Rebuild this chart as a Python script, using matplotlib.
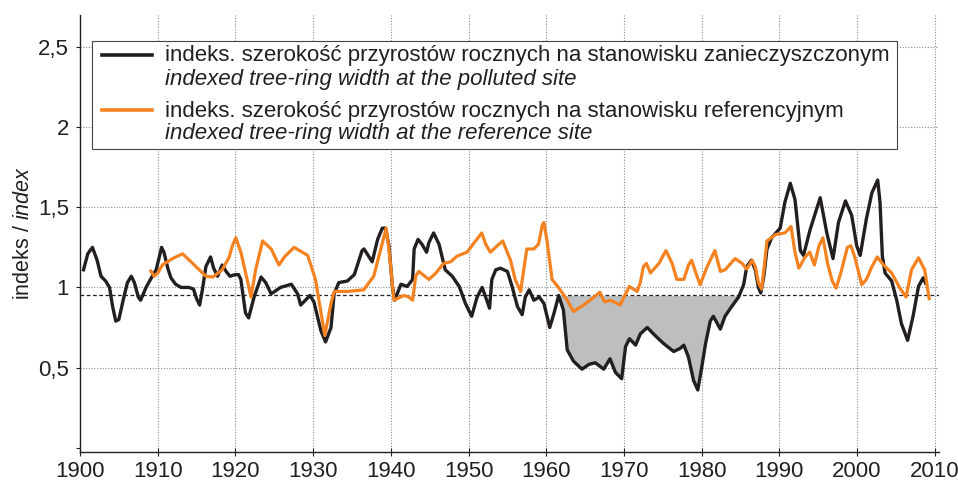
import numpy as np
import matplotlib
matplotlib.use("Agg")
import matplotlib.pyplot as plt
from matplotlib import font_manager as fm
from matplotlib.patches import Rectangle
from matplotlib.lines import Line2D

# ---------------- data ----------------
polluted_years = [
    1900.4, 1901.0, 1901.6, 1902.2, 1902.7, 1903.3, 1903.8, 1904.2, 1904.6, 1905.0,
    1905.6, 1906.1, 1906.6, 1907.0, 1907.5, 1907.8, 1908.5, 1909.3, 1909.8, 1910.5,
    1910.8, 1911.3, 1911.7, 1912.3, 1913.0, 1914.0, 1914.6, 1915.0, 1915.4, 1915.8,
    1916.2, 1916.8, 1917.2, 1917.7, 1918.3, 1918.8, 1919.3, 1920.0, 1920.4, 1920.7,
    1921.3, 1921.7, 1922.4, 1923.3, 1923.9, 1924.6, 1925.8, 1927.2, 1928.0, 1928.4,
    1929.6, 1930.1, 1931.0, 1931.6, 1932.3, 1932.7, 1933.3, 1934.4, 1935.3, 1936.3,
    1936.55, 1937.6, 1938.3, 1938.9, 1939.3, 1939.76, 1940.2, 1940.5, 1941.3, 1942.1,
    1942.8, 1943.0, 1943.5, 1944.0, 1944.6, 1944.9, 1945.5, 1946.2, 1947.0, 1947.9,
    1948.8, 1949.6, 1950.4, 1951.1, 1951.75, 1952.2, 1952.7, 1953.0, 1953.5, 1954.1,
    1955.0, 1955.6, 1956.3, 1956.9, 1957.3, 1957.8, 1958.4, 1959.1, 1959.7, 1960.45,
    1961.0, 1961.6, 1962.2, 1962.7, 1963.5, 1964.6, 1965.5, 1966.3, 1967.4, 1968.2,
    1968.9, 1969.7, 1970.2, 1970.7, 1971.5, 1972.1, 1973.0, 1974.0, 1975.1, 1976.4,
    1977.25, 1977.7, 1978.3, 1978.95, 1979.5, 1980.0, 1980.5, 1981.1, 1981.5, 1982.4,
    1983.0, 1983.7, 1984.75, 1985.4, 1985.8, 1986.4, 1986.9, 1987.3, 1987.6, 1988.0,
    1988.4, 1989.0, 1990.1, 1990.7, 1991.4, 1992.0, 1992.7, 1993.1, 1993.95, 1995.25,
    1996.1, 1996.9, 1997.6, 1998.5, 1999.3, 1999.95, 2000.4, 2001.2, 2001.9, 2002.65,
    2002.95, 2003.25, 2003.6, 2004.45, 2005.1, 2005.7, 2006.5, 2007.2, 2007.9, 2008.5,
    2008.9,
]
polluted_index = [
    1.10, 1.21, 1.25, 1.17, 1.07, 1.04, 1.00, 0.88, 0.79, 0.80,
    0.93, 1.03, 1.07, 1.03, 0.94, 0.92, 1.00, 1.07, 1.11, 1.25,
    1.22, 1.12, 1.06, 1.02, 1.00, 1.00, 0.99, 0.93, 0.89, 1.00,
    1.13, 1.19, 1.12, 1.07, 1.14, 1.10, 1.07, 1.08, 1.08, 1.05,
    0.84, 0.81, 0.94, 1.065, 1.03, 0.96, 1.00, 1.02, 0.96, 0.89,
    0.95, 0.91, 0.73, 0.66, 0.75, 0.96, 1.03, 1.04, 1.08, 1.23,
    1.24, 1.16, 1.30, 1.37, 1.37, 1.26, 1.006, 0.92, 1.02, 1.006,
    1.05, 1.24, 1.30, 1.27, 1.22, 1.28, 1.34, 1.27, 1.11, 1.07,
    1.006, 0.90, 0.82, 0.94, 1.00, 0.94, 0.87, 1.05, 1.11, 1.12,
    1.10, 1.006, 0.88, 0.83, 0.94, 0.985, 0.92, 0.94, 0.90, 0.75,
    0.84, 0.95, 0.86, 0.61, 0.54, 0.49, 0.52, 0.53, 0.49, 0.555,
    0.47, 0.43, 0.63, 0.68, 0.64, 0.71, 0.75, 0.70, 0.65, 0.60,
    0.62, 0.64, 0.565, 0.42, 0.36, 0.50, 0.65, 0.79, 0.82, 0.74,
    0.82, 0.87, 0.94, 1.017, 1.13, 1.17, 1.11, 1.00, 0.965, 1.07,
    1.24, 1.31, 1.37, 1.53, 1.65, 1.55, 1.23, 1.20, 1.36, 1.56,
    1.34, 1.18, 1.405, 1.54, 1.45, 1.26, 1.20, 1.43, 1.59, 1.67,
    1.53, 1.195, 1.09, 1.04, 0.92, 0.775, 0.67, 0.82, 1.006, 1.06,
    1.017,
]

reference_years = [
    1909.0, 1909.55, 1910.0, 1910.6, 1911.9, 1913.2, 1914.5, 1916.2, 1917.1, 1918.3,
    1919.2, 1919.6, 1920.05, 1920.7, 1921.6, 1922.0, 1922.6, 1923.5, 1924.6, 1925.6,
    1926.3, 1927.55, 1929.3, 1930.3, 1931.5, 1932.3, 1932.7, 1934.4, 1936.5, 1937.8,
    1938.7, 1939.4, 1939.8, 1940.4, 1940.8, 1941.7, 1942.3, 1942.8, 1943.2, 1943.6,
    1944.9, 1945.8, 1946.8, 1947.7, 1948.5, 1949.8, 1950.9, 1951.7, 1952.2, 1952.8,
    1953.7, 1954.4, 1955.4, 1956.0, 1956.7, 1957.1, 1957.5, 1958.4, 1959.0, 1959.5,
    1959.7, 1960.1, 1960.75, 1961.8, 1962.7, 1963.5, 1964.8, 1965.9, 1966.9, 1967.5,
    1968.25, 1969.5, 1970.2, 1970.7, 1971.7, 1972.1, 1972.5, 1972.9, 1973.4, 1974.5,
    1975.4, 1976.2, 1976.8, 1977.7, 1978.3, 1978.7, 1979.4, 1979.8, 1980.7, 1981.7,
    1982.4, 1983.0, 1984.3, 1985.2, 1985.8, 1986.5, 1986.9, 1987.3, 1987.7, 1988.0,
    1988.4, 1989.5, 1990.7, 1991.5, 1992.0, 1992.5, 1993.3, 1993.9, 1994.5, 1995.1,
    1995.6, 1996.2, 1996.8, 1997.3, 1997.9, 1998.75, 1999.2, 1999.7, 2000.6, 2001.2,
    2001.9, 2002.6, 2003.4, 2004.45, 2005.5, 2006.3, 2007.0, 2007.9, 2008.7, 2009.3,
]
reference_index = [
    1.11, 1.07, 1.09, 1.14, 1.18, 1.21, 1.15, 1.07, 1.065, 1.11,
    1.19, 1.26, 1.31, 1.22, 1.03, 0.94, 1.11, 1.29, 1.24, 1.14,
    1.19, 1.25, 1.20, 1.05, 0.70, 0.90, 0.975, 0.975, 0.985, 1.07,
    1.24, 1.37, 1.22, 0.92, 0.93, 0.95, 0.94, 0.92, 1.07, 1.10,
    1.05, 1.09, 1.15, 1.16, 1.195, 1.22, 1.29, 1.34, 1.27, 1.22,
    1.26, 1.29, 1.17, 1.05, 0.975, 1.11, 1.24, 1.24, 1.27, 1.39,
    1.405, 1.29, 1.05, 0.985, 0.92, 0.85, 0.89, 0.93, 0.97, 0.91,
    0.92, 0.89, 0.96, 1.006, 0.975, 1.03, 1.13, 1.15, 1.09, 1.15,
    1.23, 1.15, 1.05, 1.05, 1.14, 1.17, 1.07, 1.017, 1.13, 1.23,
    1.10, 1.11, 1.18, 1.15, 1.115, 1.17, 1.13, 1.03, 0.99, 1.11,
    1.29, 1.33, 1.34, 1.38, 1.22, 1.12, 1.19, 1.22, 1.14, 1.26,
    1.31, 1.15, 1.04, 0.996, 1.09, 1.25, 1.26, 1.19, 1.017, 1.05,
    1.13, 1.19, 1.14, 1.09, 0.996, 0.94, 1.11, 1.185, 1.11, 0.92,
]

threshold = 0.95
deficit_period = (1961.6, 1984.9)

x_ticks = [1900, 1910, 1920, 1930, 1940, 1950, 1960, 1970, 1980, 1990, 2000, 2010]
y_ticks = [0, 0.5, 1, 1.5, 2, 2.5]
y_tick_labels = ["", "0,5", "1", "1,5", "2", "2,5"]

legend_pl = ["indeks. szerokość przyrostów rocznych na stanowisku zanieczyszczonym",
             "indeks. szerokość przyrostów rocznych na stanowisku referencyjnym"]
legend_en = ["indexed tree-ring width at the polluted site",
             "indexed tree-ring width at the reference site"]
ylabel_pl = "indeks / "
ylabel_en = "index"

# ---------------- style ----------------
names = {f.name for f in fm.fontManager.ttflist}
BASE = "Liberation Sans"
NARROW = "Liberation Sans Narrow" if "Liberation Sans Narrow" in names else BASE
plt.rcParams["font.family"] = [BASE, "DejaVu Sans"]
plt.rcParams["mathtext.fontset"] = "custom"
plt.rcParams["mathtext.rm"] = BASE
plt.rcParams["mathtext.it"] = BASE + ":italic"

BLACK = "#231f20"
ORANGE = "#f58220"
FILL = "#bcbec0"
GRID = "#8c8c8c"

W, H = 958, 483
fig = plt.figure(figsize=(W / 100, H / 100), dpi=100)
ax_left, ax_right, ax_top, ax_bottom = 80, 938.7, 15, 451.7
ax = fig.add_axes([ax_left / W, 1 - ax_bottom / H, (ax_right - ax_left) / W, (ax_bottom - ax_top) / H])

px = np.array(polluted_years)
pv = np.array(polluted_index)
rx = np.array(reference_years)
rv = np.array(reference_index)

ax.set_xlim(1900, 2010.5)
ax.set_ylim(-0.025, 2.70)

# grid
for xv in x_ticks[1:]:
    ax.axvline(xv, color=GRID, lw=0.8, ls=(0, (1, 1.5)), zorder=0)
for yv in y_ticks[1:]:
    ax.axhline(yv, color=GRID, lw=0.8, ls=(0, (1, 1.5)), zorder=0)

# shaded deficit
mask = (px >= deficit_period[0]) & (px <= deficit_period[1])
ax.fill_between(px, pv, threshold, where=mask & (pv <= threshold + 1e-9),
                interpolate=True, color=FILL, lw=0, zorder=1)

ax.axhline(threshold, color=BLACK, lw=0.9, ls=(0, (3, 2)), zorder=2)

ax.plot(px, pv, color=BLACK, lw=2.4, solid_joinstyle="round", solid_capstyle="butt", zorder=3)
ax.plot(rx, rv, color=ORANGE, lw=2.3, solid_joinstyle="round", solid_capstyle="butt", zorder=4)

# axes style
for s in ["top", "right"]:
    ax.spines[s].set_visible(False)
for s in ["left", "bottom"]:
    ax.spines[s].set_color(BLACK)
    ax.spines[s].set_linewidth(1.0)

ax.set_xticks(x_ticks)
ax.set_xticklabels([str(t) for t in x_ticks])
ax.set_yticks(y_ticks)
ax.set_yticklabels(y_tick_labels)
ax.tick_params(axis="x", direction="inout", length=6, width=0.8, pad=4, labelsize=16, colors=BLACK)
ax.tick_params(axis="y", direction="out", length=3, width=0.8, pad=5, labelsize=16, colors=BLACK)
for lab in ax.get_xticklabels() + ax.get_yticklabels():
    lab.set_fontfamily(NARROW)

ax.set_ylabel(ylabel_pl + r"$\mathit{" + ylabel_en + "}$", fontsize=15.5, color=BLACK, labelpad=3)

# legend (manual box)
def fx(p):
    return p / W

def fy(p):
    return 1 - p / H

fig.patches.append(Rectangle((fx(92), fy(149)), fx(897) - fx(92), fy(41) - fy(149),
                             transform=fig.transFigure, facecolor="white",
                             edgecolor="#444444", lw=0.8, zorder=10))
rows = [(56, 79, BLACK), (111, 134, ORANGE)]
for i, (y1, y2, col) in enumerate(rows):
    fig.lines.append(Line2D([fx(102), fx(152)], [fy(y1 - 1), fy(y1 - 1)], transform=fig.transFigure,
                            color=col, lw=2.6, zorder=11))
    fig.text(fx(165), fy(y1), legend_pl[i], fontsize=16, color=BLACK, va="center",
             ha="left", zorder=12)
    fig.text(fx(165), fy(y2), legend_en[i], fontsize=16, color=BLACK, va="center",
             ha="left", style="italic", zorder=12)

fig.savefig("out.png", dpi=100, facecolor="white")
